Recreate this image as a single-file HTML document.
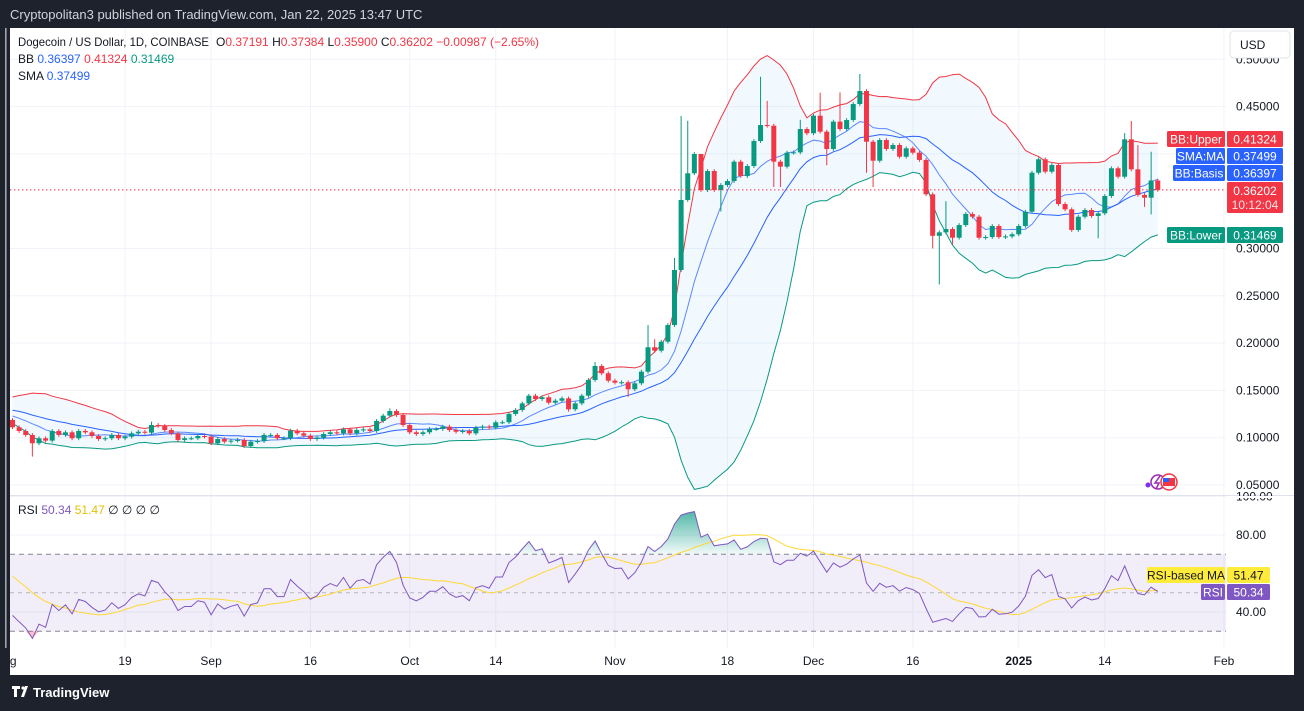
<!DOCTYPE html>
<html><head><meta charset="utf-8">
<style>
html,body{margin:0;padding:0;background:#1e222d;}
body{width:1304px;height:711px;overflow:hidden;font-family:"Liberation Sans",sans-serif;}
svg{display:block}
text{font-family:"Liberation Sans",sans-serif;}
</style></head>
<body>
<svg id="chart" width="1304" height="711" viewBox="0 0 1304 711">
  <rect x="0" y="0" width="1304" height="711" fill="#1e222d"/>
  <text x="10" y="19" font-size="13" fill="#d1d4dc">Cryptopolitan3 published on TradingView.com, Jan 22, 2025 13:47 UTC</text>
  <rect x="10" y="28" width="1284" height="647" fill="#ffffff"/>
  <defs>
    <clipPath id="mainClip"><rect x="10" y="28" width="1216" height="467"/></clipPath>
    <clipPath id="rsiClip"><rect x="10" y="496" width="1216" height="152"/></clipPath>
    <clipPath id="panelClip"><rect x="10" y="28" width="1284" height="647"/></clipPath>
    <linearGradient id="obGrad" x1="0" y1="0" x2="0" y2="1">
      <stop offset="0" stop-color="#089981" stop-opacity="0.7"/>
      <stop offset="1" stop-color="#089981" stop-opacity="0.05"/>
    </linearGradient>
  </defs>
  <g id="grid"></g>
  <g id="main" clip-path="url(#mainClip)"></g>
  <g id="rsi" clip-path="url(#rsiClip)"></g>
  <line x1="10" y1="495.5" x2="1294" y2="495.5" stroke="#e0e3eb"/>
  <g id="axes" clip-path="url(#panelClip)"></g>
  <g id="labels"></g>
  <g font-size="12">
    <text x="18" y="46" fill="#131722" textLength="191" lengthAdjust="spacingAndGlyphs">Dogecoin / US Dollar, 1D, COINBASE</text>
    <text x="216" y="46" fill="#131722">O<tspan fill="#f23645">0.37191</tspan>  H<tspan fill="#f23645">0.37384</tspan>  L<tspan fill="#f23645">0.35900</tspan>  C<tspan fill="#f23645">0.36202</tspan>  <tspan fill="#f23645">−0.00987 (−2.65%)</tspan></text>
    <text x="18" y="63" fill="#131722">BB  <tspan fill="#2962ff">0.36397</tspan>  <tspan fill="#f23645">0.41324</tspan>  <tspan fill="#089981">0.31469</tspan></text>
    <text x="18" y="80" fill="#131722">SMA  <tspan fill="#2962ff">0.37499</tspan></text>
    <text x="18" y="514" fill="#131722">RSI  <tspan fill="#7e57c2">50.34</tspan>  <tspan fill="#e5c100">51.47</tspan>  ∅  ∅  ∅  ∅</text>
  </g>
  <g>
    <rect x="1230" y="31" width="60" height="27" rx="4" fill="#fff" stroke="#e0e3eb"/>
    <text x="1240" y="49" font-size="12" fill="#131722">USD</text>
  </g>
  <g>
    <circle cx="1158" cy="482" r="7" fill="none" stroke="#9c27b0" stroke-width="1.5"/>
    <path d="M1160 476 L1155 483 L1159 483 L1156 489" stroke="#9c27b0" stroke-width="1.5" fill="none"/>
    <circle cx="1148" cy="485" r="2.5" fill="#7b2ff7"/>
    <circle cx="1169" cy="482" r="8" fill="#fff" stroke="#f23645" stroke-width="1.5"/>
    <rect x="1163" y="478" width="12" height="8" fill="#f23645"/>
    <rect x="1163" y="478" width="6" height="4" fill="#2962ff"/>
  </g>
  <g>
    <path d="M12 686 h8 v3 h-3 v8 h-3 v-8 h-2z M21 697 l4-11 h3 l-4 11z" fill="#fff"/>
    <circle cx="23" cy="688" r="1.6" fill="#fff"/>
    <text x="33" y="697" font-size="13" font-weight="bold" fill="#ffffff">TradingView</text>
  </g>
</svg>
<script>
// ---------- data ----------
const warmupCloses = [0.108,0.105,0.110,0.113,0.116,0.118,0.121,0.122,0.125,0.124,0.129,0.133,0.136,0.138,0.137,0.135,0.139,0.134,0.131,0.133,0.131,0.128,0.129,0.127,0.123,0.125,0.128,0.124,0.121,0.1187];
const closes = [
.1110,.1071,.1029,.0941,.0994,.0969,.1071,.1029,.1057,.0994,
.1071,.1057,.1018,.0986,.0994,.1029,.0994,.1011,.1046,.1063,
.1053,.1134,.1124,.1081,.1046,.0976,.0994,.0994,.1018,.1011,
.0941,.0986,.0958,.0969,.0976,.0912,.0958,.0965,.1029,.1029,
.0994,.0994,.1074,.1046,.1022,.0986,.1001,.1039,.1057,.1046,
.1088,.1046,.1081,.1088,.1071,.1177,.1233,.1282,.1240,.1134,
.1057,.1039,.1057,.1092,.1092,.1117,.1081,.1063,.1071,.1046,
.1106,.1117,.1106,.1163,.1163,.1251,.1293,.1363,.1444,.1409,
.1427,.1370,.1391,.1416,.1300,.1363,.1444,.1610,.1758,.1681,
.1603,.1582,.1586,.1512,.1575,.1698,.1956,.1920,.2015,.2191,
.2773,.3513,.3795,.3999,.3618,.3819,.3618,.3671,.3713,.3918,
.3766,.3872,.4136,.4305,.4298,.3918,.3865,.4013,.4016,.4263,
.4218,.4404,.4235,.4052,.4341,.4263,.4358,.4527,.4665,.4129,
.3928,.4147,.4052,.4094,.3970,.4059,.4013,.3936,.3573,.3134,
.3171,.3206,.3114,.3248,.3365,.3336,.3114,.3121,.3238,.3121,
.3128,.3150,.3238,.3389,.3801,.3943,.3812,.3883,.3470,.3414,
.3196,.3336,.3407,.3344,.3372,.3555,.3848,.3759,.4154,.3837,
.3566,.3537,.3719,.36202];
const highOv = {100:0.29,101:0.440,102:0.435,104:0.398,113:0.4816,114:0.456,119:0.436,122:0.4647,125:0.465,128:0.4845,141:0.350,96:0.219,97:0.204,88:0.180,168:0.422,169:0.4348,170:0.4094,172:0.4023,57:0.131,21:0.117};
const lowOv = {3:0.080,84:0.1275,93:0.1433,107:0.339,115:0.365,116:0.365,123:0.388,129:0.380,130:0.365,139:0.300,140:0.262,164:0.3108,171:0.344,172:0.336,142:0.304};
const priceTicks = [0.05,0.10,0.15,0.20,0.25,0.30,0.40,0.45,0.50];
const rsiTicks = [100,80,40];
const timeLabels = ["Aug","19","Sep","16","Oct","14","Nov","18","Dec","16","2025","14","Feb"];
const timeIdx = [-1,17,30,45,60,73,91,108,121,136,152,165,183];

// ---------- scales ----------
const NS="http://www.w3.org/2000/svg";
const px = i => 12.5 + i*6.62;
const py = p => 485 - (p-0.05)*946;
const ry = r => 535 + (80-r)*1.925;
function mk(tag, attrs, parent){const e=document.createElementNS(NS,tag);for(const k in attrs)e.setAttribute(k,attrs[k]);parent.appendChild(e);return e;}

// ---------- indicators ----------
const all = warmupCloses.concat(closes);
const W = warmupCloses.length;
function sma(arr,i,n){let s=0;for(let k=i-n+1;k<=i;k++)s+=arr[k];return s/n;}
const basis=[],upper=[],lower=[],sma9=[];
for(let i=0;i<closes.length;i++){
  const j=i+W; const m=sma(all,j,20); let v=0;
  for(let k=j-19;k<=j;k++)v+=(all[k]-m)**2;
  const sd=Math.sqrt(v/20);
  basis.push(m);upper.push(m+2*sd);lower.push(m-2*sd);sma9.push(sma(all,j,9));
}
const rsiAll=[];let ag=0,al=0;
for(let k=1;k<all.length;k++){
  const d=all[k]-all[k-1];const g=Math.max(d,0),l=Math.max(-d,0);
  if(k<=14){ag+=g/14;al+=l/14;}else{ag=(ag*13+g)/14;al=(al*13+l)/14;}
  rsiAll[k]= al===0?100:100-100/(1+ag/al);
}
const rsi=[],rsiMa=[];
for(let i=0;i<closes.length;i++){const j=i+W;rsi.push(rsiAll[j]);let s=0;for(let k=j-13;k<=j;k++)s+=rsiAll[k];rsiMa.push(s/14);}

// ---------- grid ----------
const grid=document.getElementById('grid');
priceTicks.forEach(p=>{const l=mk('line',{x1:10,x2:1226,y1:py(p),y2:py(p),stroke:'#f0f3fa'},grid);

});
rsiTicks.forEach(r=>{const l=mk('line',{x1:10,x2:1226,y1:ry(r),y2:ry(r),stroke:'#f0f3fa'},grid);

});
timeIdx.forEach(t=>{const l=mk('line',{x1:px(t),x2:px(t),y1:28,y2:648,stroke:'#f0f3fa'},grid);

});

// ---------- main pane ----------
const main=document.getElementById('main');
const line=(arr,f,i0=0)=>arr.map((v,i)=>px(i+i0).toFixed(1)+','+f(v).toFixed(1)).join(' ');
let fillPts=line(upper,py)+' '+lower.map((v,i)=>[i,v]).reverse().map(([i,v])=>px(i).toFixed(1)+','+py(v).toFixed(1)).join(' ');
const bf=mk('polygon',{points:fillPts,fill:'#2196f3','fill-opacity':'0.06'},main);


const bu=mk('polyline',{points:line(upper,py),fill:'none',stroke:'#f23645','stroke-width':1},main);


const bl=mk('polyline',{points:line(lower,py),fill:'none',stroke:'#089981','stroke-width':1},main);


const bb=mk('polyline',{points:line(basis,py),fill:'none',stroke:'#2962ff','stroke-width':1},main);


const sm=mk('polyline',{points:line(sma9,py),fill:'none',stroke:'#2962ff','stroke-opacity':'0.75','stroke-width':1},main);


for(let i=0;i<closes.length;i++){
  const o=i===0?warmupCloses[W-1]:closes[i-1], c=closes[i];
  const hi=highOv[i]!==undefined?highOv[i]:Math.max(o,c)+0.002;
  const lo=lowOv[i]!==undefined?lowOv[i]:Math.min(o,c)-0.002;
  const col=c>=o?'#089981':'#f23645';
  const g=mk('g',{},main);
  
  
  mk('line',{x1:px(i),x2:px(i),y1:py(hi),y2:py(lo),stroke:col,'stroke-width':1},g);
  const t=Math.min(py(o),py(c)),h=Math.max(1,Math.abs(py(o)-py(c)));
  mk('rect',{x:px(i)-2.5,y:t,width:5,height:h,fill:col},g);
}
const pl=mk('line',{x1:10,x2:1226,y1:py(closes[closes.length-1]),y2:py(closes[closes.length-1]),stroke:'#f23645','stroke-dasharray':'1.5 2.5'},main);



// ---------- RSI pane ----------
const rp=document.getElementById('rsi');
const band=mk('rect',{x:10,y:ry(70),width:1216,height:ry(30)-ry(70),fill:'#7e57c2','fill-opacity':'0.1'},rp);


[70,50,30].forEach(v=>{const l=mk('line',{x1:10,x2:1226,y1:ry(v),y2:ry(v),stroke:'#787b86','stroke-dasharray':v===50?'4 4':'5 4','stroke-opacity':v===50?'0.5':'0.9'},rp);

});
const ob=rsi.map((v,i)=>px(i).toFixed(1)+','+Math.min(ry(v),ry(70)).toFixed(1)).join(' ');
const obp=mk('polygon',{points:px(0)+','+ry(70)+' '+ob+' '+px(rsi.length-1)+','+ry(70),fill:'url(#obGrad)'},rp);


const os=rsi.map((v,i)=>px(i).toFixed(1)+','+Math.max(ry(v),ry(30)).toFixed(1)).join(' ');
const osp=mk('polygon',{points:px(0)+','+ry(30)+' '+os+' '+px(rsi.length-1)+','+ry(30),fill:'#f23645','fill-opacity':'0.3'},rp);


const rm=mk('polyline',{points:line(rsiMa,ry),fill:'none',stroke:'#fdd835','stroke-width':1},rp);


const rl=mk('polyline',{points:line(rsi,ry),fill:'none',stroke:'#7e57c2','stroke-width':1},rp);



// ---------- axes ----------
const ax=document.getElementById('axes');
priceTicks.forEach(p=>{const t=mk('text',{x:1236,y:py(p)+4,'font-size':12,fill:'#131722'},ax);t.textContent=p.toFixed(5);

});
rsiTicks.forEach(r=>{const t=mk('text',{x:1236,y:ry(r)+4,'font-size':12,fill:'#131722'},ax);t.textContent=r.toFixed(2);

});
timeLabels.forEach((s,k)=>{const t=mk('text',{x:px(timeIdx[k]),y:665,'font-size':12,fill:'#131722','text-anchor':'middle','font-weight':s==='2025'?'bold':'normal'},ax);t.textContent=s;

});
const cover=mk('rect',{x:1226,y:496,width:68,height:2,fill:'#fff'},ax);



// ---------- value labels ----------
const lb=document.getElementById('labels');
function tag(x,y,w,h,bg,fg,txt,name){
  const g=mk('g',{},lb);
  
  
  mk('rect',{x:x,y:y,width:w,height:h,fill:bg,rx:1.5},g);
  const t=mk('text',{x:x+w/2,y:y+h/2+4.5,'font-size':12,fill:fg,'text-anchor':'middle'},g);t.textContent=txt;
}
tag(1167,131,58,16,'#f23645','#fff','BB:Upper','bb-upper-tag');
tag(1227,131,56,16,'#f23645','#fff','0.41324','bb-upper-value');
tag(1176,148,49,16,'#2962ff','#fff','SMA:MA','sma-tag');
tag(1227,148,56,16,'#2962ff','#fff','0.37499','sma-value');
tag(1173,165,52,16,'#2962ff','#fff','BB:Basis','bb-basis-tag');
tag(1227,165,56,16,'#2962ff','#fff','0.36397','bb-basis-value');
tag(1227,182,56,31,'#f23645','#fff','','last-price-box');
(function(){const t=mk('text',{x:1255,y:195,'font-size':12,fill:'#fff','text-anchor':'middle'},lb);t.textContent='0.36202';


const t2=mk('text',{x:1255,y:209,'font-size':12,fill:'#fde3e5','text-anchor':'middle'},lb);t2.textContent='10:12:04';

})();
tag(1167,227,58,16,'#089981','#fff','BB:Lower','bb-lower-tag');
tag(1227,227,56,16,'#089981','#fff','0.31469','bb-lower-value');
tag(1147,567,78,16,'#ffeb3b','#131722','RSI-based MA','rsi-ma-tag');
tag(1227,567,43,16,'#ffeb3b','#131722','51.47','rsi-ma-value');
tag(1201,584,24,16,'#7e57c2','#fff','RSI','rsi-tag');
tag(1227,584,43,16,'#7e57c2','#fff','50.34','rsi-value');
</script>
</body></html>
